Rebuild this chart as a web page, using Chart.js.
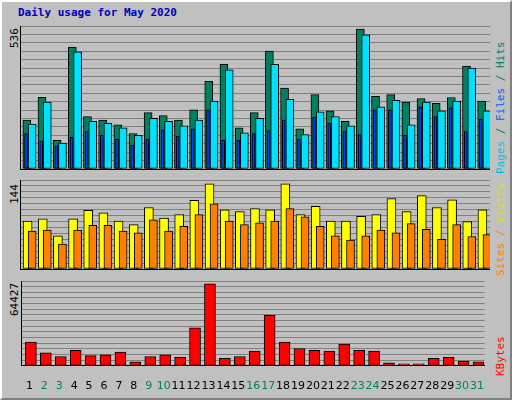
<!DOCTYPE html>
<html><head><meta charset="utf-8">
<script src="https://cdn.jsdelivr.net/npm/chart.js@4"></script>
<style>
body{margin:0;background:#fff}
#f{position:absolute;left:0;top:0;width:508px;height:396px;background:#c0c0c0;border:2px solid;border-color:#fff #808080 #808080 #fff}
.t{position:absolute;font-family:"DejaVu Sans Mono",monospace;font-size:11px;white-space:nowrap}
.r{transform-origin:left top;transform:rotate(-90deg)}
canvas{position:absolute}
.p{position:absolute;border:1px solid;border-color:#000 #fff #fff #000}
</style></head><body>
<div id="f"></div>
<div class="t" style="left:18px;top:6px;color:#0000c0;font-weight:bold">Daily usage for May 2020</div>
<div class="t r" style="left:8px;top:48px;color:#000">536</div>
<div class="t r" style="left:8px;top:204px;color:#000">144</div>
<div class="t r" style="left:8px;top:316px;color:#000">64427</div>
<div class="t r" style="left:494px;top:174px"><span style="color:#00c0e0">Pages</span><span style="color:#008060"> / </span><span style="color:#0060ff">Files</span><span style="color:#008060"> / Hits</span></div>
<div class="t r" style="left:494px;top:276px"><span style="color:#ff8000">Sites</span><span style="color:#ff8000"> / </span><span style="color:#e0e000">Visits</span></div>
<div class="t r" style="left:494px;top:376px;color:#ff0000">KBytes</div>
<canvas id="c1" style="left:20px;top:26px;width:470px;height:151px"></canvas>
<canvas id="c2" style="left:20px;top:180px;width:470px;height:97px"></canvas>
<canvas id="c3" style="left:20px;top:281px;width:470px;height:118px"></canvas>
<script>
const days=[1,2,3,4,5,6,7,8,9,10,11,12,13,14,15,16,17,18,19,20,21,22,23,24,25,26,27,28,29,30,31];
const weekend=[2,3,9,10,16,17,23,24,30,31];
const hits=[187,275,110,467,201,187,169,136,216,205,187,227,336,401,158,216,452,310,154,285,223,183,536,278,285,256,270,252,274,394,260];
const files=[172,256,99,449,183,176,158,129,194,183,165,187,260,380,139,194,401,267,132,219,201,165,514,238,263,169,256,223,260,387,223];
const pages=[136,107,89,121,143,129,114,92,114,150,125,154,227,110,110,136,147,187,114,198,176,143,132,227,227,129,238,201,234,143,190];
const visits=[81,85,56,85,99,95,81,75,104,86,92,116,144,100,97,102,100,144,92,106,81,81,89,92,119,97,124,104,117,80,100];
const sites=[64,66,42,66,74,74,64,61,83,64,72,92,110,81,75,78,81,102,88,72,56,49,56,66,61,77,67,50,75,55,58];
const kbytes=[18574,10110,7288,12225,7993,8699,10815,3056,7288,8699,6583,29858,64427,5878,7288,11520,39732,18574,13636,12225,11520,17163,12225,11520,2351,1646,1646,5878,6583,3762,3056];
const maxes=[536,144,64427];

function ds(vals,off,color,w,order){
  return {data:vals.map((v,i)=>({x:days[i]+off,y:v})),backgroundColor:color,borderColor:'#000',borderWidth:1,borderSkipped:false,barThickness:w,grouped:false,order:order};
}
function mk(id,sets,max,head,divs,showX){
  const top=max*head;
  new Chart(document.getElementById(id),{type:'bar',data:{datasets:sets},
   options:{responsive:false,animation:false,events:[],layout:{padding:0},
    plugins:{legend:{display:false},tooltip:{enabled:false}},
    scales:{
     x:{type:'linear',min:0.5,max:31.5,offset:false,
        grid:{display:false},border:{color:'#000'},
        afterBuildTicks:a=>{a.ticks=days.map(d=>({value:d}));},
        ticks:{display:showX,autoSkip:false,maxRotation:0,padding:6,
          color:c=>weekend.includes(c.tick.value)?'#008060':'#000',
          font:{family:'DejaVu Sans',size:11}}},
     y:{min:0,max:top,afterBuildTicks:a=>{const t=[];for(let i=0;i<=divs;i++)t.push({value:top*i/divs});a.ticks=t;},
        ticks:{display:false},grid:{color:'#808080',lineWidth:1,drawTicks:false},border:{color:'#000'}}
    }}});
}
mk('c1',[ds(pages,-0.1,'#0040ff',3,1),ds(files,0.3,'#00e0ff',8,2),ds(hits,-0.05,'#008060',8,3)],maxes[0],1.022,17,false);
mk('c2',[ds(sites,0.3,'#ff8000',8,1),ds(visits,0.0,'#ffff00',9,2)],maxes[1],1.045,15,false);
mk('c3',[ds(kbytes,0.1,'#ff0000',11,1)],maxes[2],1.035,15,true);
</script></body></html>
